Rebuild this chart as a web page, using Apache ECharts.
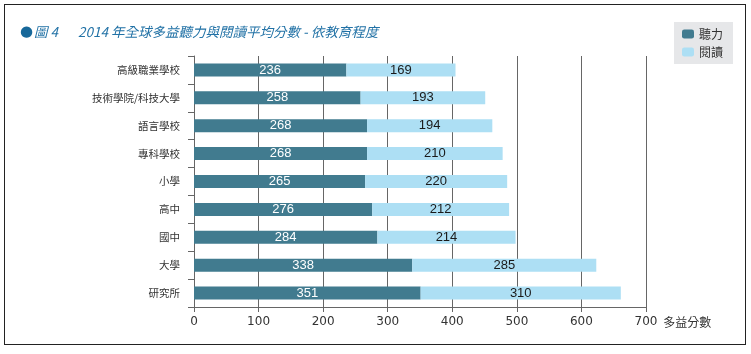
<!DOCTYPE html>
<html>
<head>
<meta charset="utf-8">
<script src="https://cdn.jsdelivr.net/npm/echarts@6/dist/echarts.min.js"></script>
<style>
  html, body { margin: 0; padding: 0; background: #fff; }
  #box { position: absolute; left: 4px; top: 4px; width: 740px; height: 339px; border: 1.5px solid #222; }
  #m { position: absolute; left: 0; top: 0; width: 751px; height: 354px; }
</style>
</head>
<body>
<div id="box"></div>
<div id="m"></div>
<script>
var categories = ['高級職業學校', '技術學院/科技大學', '語言學校', '專科學校', '小學', '高中', '國中', '大學', '研究所'];
var listening = [236, 258, 268, 268, 265, 276, 284, 338, 351];
var reading = [169, 193, 194, 210, 220, 212, 214, 285, 310];
var xTicks = [0, 700, 100];

var cjk = '"Noto Sans CJK TC", "Noto Sans CJK SC", sans-serif';

var myChart = echarts.init(document.getElementById('m'));
var option = {
    animation: false,
    title: {
        text: '{dot|●}{t|圖 4}{gap|}{t|2014 年全球多益聽力與閱讀平均分數 - 依教育程度}',
        left: 15,
        top: 18,
        textStyle: {
            fontWeight: 'normal',
            rich: {
                dot: { color: '#17689a', fontSize: 15, fontWeight: 'normal', fontFamily: 'DejaVu Sans', padding: [0, 1, 0, 0] },
                t: { color: '#2272a6', fontSize: 13.5, fontWeight: 'normal', fontStyle: 'italic', fontFamily: cjk },
                gap: { width: 20 }
            }
        }
    },
    legend: {
        orient: 'vertical',
        right: 18,
        top: 22,
        padding: [6, 10, 6, 8],
        backgroundColor: '#e6e7e9',
        itemWidth: 12,
        itemHeight: 9,
        itemGap: 6,
        textStyle: { fontSize: 12, color: '#333', fontFamily: cjk },
        data: ['聽力', '閱讀']
    },
    grid: { left: 194, right: 105, top: 56, bottom: 47 },
    xAxis: {
        type: 'value',
        min: xTicks[0],
        max: xTicks[1],
        interval: xTicks[2],
        name: '多益分數',
        nameLocation: 'end',
        nameGap: 15,
        nameTextStyle: { color: '#333', fontSize: 12, fontFamily: cjk, verticalAlign: 'top', padding: [9, 0, 0, 0] },
        axisLine: { show: true, lineStyle: { color: '#666' } },
        axisTick: { show: true, length: 5, lineStyle: { color: '#666' } },
        axisLabel: { color: '#333', fontSize: 12, fontFamily: 'DejaVu Sans', margin: 9 },
        splitLine: { show: true, lineStyle: { color: '#666', width: 1 } }
    },
    yAxis: {
        type: 'category',
        inverse: true,
        data: categories,
        axisLine: { show: true, lineStyle: { color: '#666' } },
        axisTick: { show: true, length: 6, lineStyle: { color: '#666' } },
        axisLabel: { color: '#333', fontSize: 10.5, fontFamily: cjk, margin: 14 }
    },
    series: [
        {
            name: '聽力',
            type: 'bar',
            stack: 'total',
            barWidth: 13,
            data: listening,
            itemStyle: { color: '#417b8f' },
            label: {
                show: true,
                position: 'inside',
                color: '#fff',
                fontSize: 13,
                fontFamily: 'Liberation Sans'
            }
        },
        {
            name: '閱讀',
            type: 'bar',
            stack: 'total',
            barWidth: 13,
            data: reading,
            itemStyle: { color: '#addff4' },
            label: {
                show: true,
                position: 'inside',
                color: '#1a1a1a',
                fontSize: 13,
                fontFamily: 'Liberation Sans'
            }
        }
    ]
};

myChart.setOption(option);
</script>
</body>
</html>
